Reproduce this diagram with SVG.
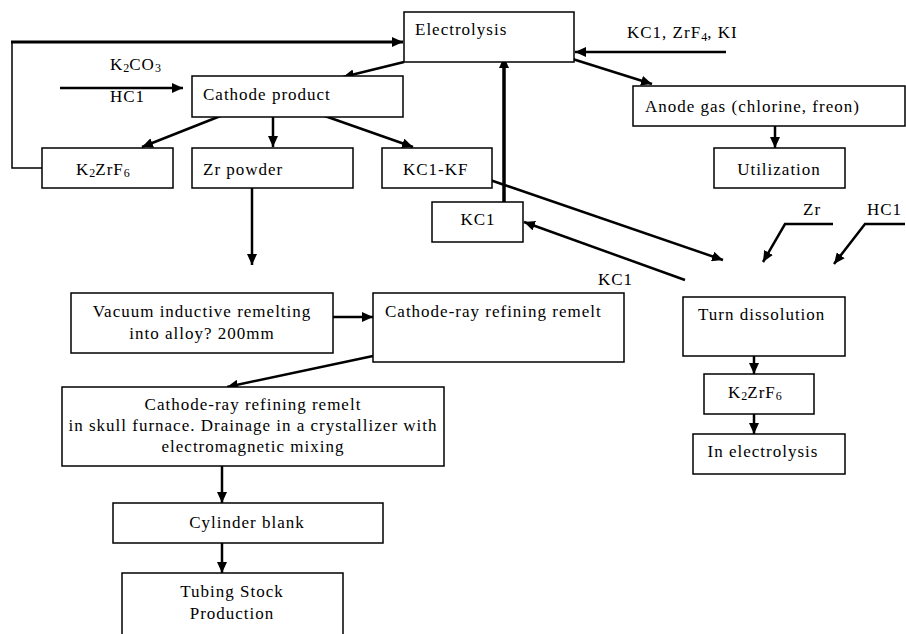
<svg xmlns="http://www.w3.org/2000/svg" width="906" height="634" viewBox="0 0 906 634">
<defs>
<marker id="ah" markerUnits="userSpaceOnUse" markerWidth="12" markerHeight="10" refX="11" refY="5" orient="auto">
<path d="M0,0 L11,5 L0,10 z" fill="#000"/>
</marker>
<style>
.box{fill:#fff;stroke:#000;stroke-width:1.5}
text{font-family:"Liberation Serif","Times New Roman",serif;font-size:17px;letter-spacing:1px;fill:#000}
.c{text-anchor:middle}
.ln{fill:none;stroke:#000;stroke-width:2.5}
.arr{fill:none;stroke:#000;stroke-width:2.5;marker-end:url(#ah)}
.thin{fill:none;stroke:#000;stroke-width:1.5}
.sub{font-size:12px;letter-spacing:0}
</style>
</defs>
<rect width="906" height="634" fill="#fff"/>
<g id="connectors">
<polyline class="thin" points="42,168 12,168 12,42"/>
<line class="arr" x1="11" y1="42" x2="403" y2="42" style="stroke-width:3"/>
<line class="arr" x1="404" y1="62" x2="343" y2="77"/>
<line class="arr" x1="60" y1="88" x2="183" y2="88"/>
<line class="arr" x1="726" y1="52" x2="575" y2="52"/>
<line class="arr" x1="563" y1="56" x2="652" y2="84"/>
<line class="arr" x1="223" y1="115" x2="142" y2="147"/>
<line class="arr" x1="273" y1="115" x2="273" y2="147"/>
<line class="arr" x1="322" y1="115" x2="413" y2="147"/>
<line class="arr" x1="775" y1="126" x2="775" y2="148"/>
<line class="arr" x1="504" y1="202" x2="504" y2="57" style="stroke-width:3.5"/>
<line class="arr" x1="490" y1="180" x2="723" y2="260"/>
<line class="arr" x1="685" y1="280" x2="524" y2="222"/>
<polyline class="arr" points="833,224 785,224 763,262"/>
<polyline class="arr" points="905,224 865,224 834,264"/>
<line class="arr" x1="252" y1="188" x2="252" y2="265"/>
<line class="arr" x1="332" y1="317" x2="373" y2="317"/>
<line class="arr" x1="373" y1="356" x2="227" y2="387"/>
<line class="arr" x1="754" y1="356" x2="754" y2="374"/>
<line class="arr" x1="754" y1="414" x2="754" y2="434"/>
<line class="arr" x1="222" y1="466" x2="222" y2="503"/>
<line class="arr" x1="222" y1="543" x2="222" y2="573"/>
</g>
<g id="labels">
<text x="110" y="70">K<tspan class="sub" dy="2">2</tspan><tspan dy="-2">CO</tspan><tspan class="sub" dy="2">3</tspan></text>
<text x="110" y="102">HC1</text>
<text x="627" y="38">KC1, ZrF<tspan class="sub" dy="3">4</tspan><tspan dy="-3">, KI</tspan></text>
<text x="598" y="285">KC1</text>
<text x="803" y="215">Zr</text>
<text x="867" y="215">HC1</text>
</g>
<g id="electrolysis"><rect class="box" x="404" y="12" width="170" height="50"/><text x="415" y="35">Electrolysis</text></g>
<g id="cathode-product"><rect class="box" x="192" y="76" width="211" height="41"/><text x="203" y="100">Cathode product</text></g>
<g id="k2zrf6"><rect class="box" x="42" y="148" width="131" height="40"/><text x="76" y="175">K<tspan class="sub" dy="2">2</tspan><tspan dy="-2">ZrF</tspan><tspan class="sub" dy="2">6</tspan></text></g>
<g id="zr-powder"><rect class="box" x="192" y="148" width="161" height="40"/><text x="203" y="175">Zr powder</text></g>
<g id="kcl-kf"><rect class="box" x="382" y="148" width="110" height="40"/><text x="403" y="175">KC1-KF</text></g>
<g id="anode-gas"><rect class="box" x="633" y="86" width="272" height="40"/><text x="645" y="112">Anode gas (chlorine, freon)</text></g>
<g id="utilization"><rect class="box" x="714" y="148" width="131" height="40"/><text class="c" x="779" y="175">Utilization</text></g>
<g id="kcl"><rect class="box" x="432" y="202" width="91" height="40"/><text class="c" x="478" y="225">KC1</text></g>
<g id="vacuum"><rect class="box" x="71" y="293" width="262" height="60"/><text class="c" x="202" y="317">Vacuum inductive remelting</text><text class="c" x="202" y="339">into alloy? 200mm</text></g>
<g id="cathode-ray"><rect class="box" x="373" y="293" width="251" height="69"/><text x="385" y="317">Cathode-ray refining remelt</text></g>
<g id="turn-dissolution"><rect class="box" x="683" y="297" width="162" height="59"/><text x="698" y="320">Turn dissolution</text></g>
<g id="k2zrf6-2"><rect class="box" x="704" y="374" width="110" height="40"/><text x="728" y="398">K<tspan class="sub" dy="2">2</tspan><tspan dy="-2">ZrF</tspan><tspan class="sub" dy="2">6</tspan></text></g>
<g id="in-electrolysis"><rect class="box" x="693" y="434" width="152" height="40"/><text class="c" x="763" y="457">In electrolysis</text></g>
<g id="skull"><rect class="box" x="62" y="387" width="382" height="79"/><text class="c" x="253" y="410">Cathode-ray refining remelt</text><text class="c" x="253" y="431">in skull furnace. Drainage in a crystallizer with</text><text class="c" x="253" y="452">electromagnetic mixing</text></g>
<g id="cylinder"><rect class="box" x="113" y="503" width="270" height="40"/><text class="c" x="247" y="528">Cylinder blank</text></g>
<g id="tubing"><rect class="box" x="122" y="573" width="221" height="70"/><text class="c" x="232" y="597">Tubing Stock</text><text class="c" x="232" y="619">Production</text></g>
</svg>
